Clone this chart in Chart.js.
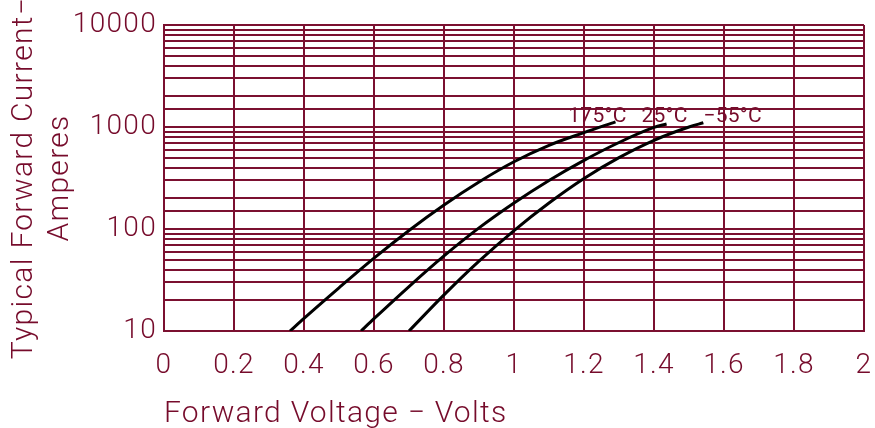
<!DOCTYPE html>
<html>
<head>
<meta charset="utf-8">
<script src="https://cdn.jsdelivr.net/npm/chart.js@4"></script>
<style>
  html, body { margin: 0; padding: 0; background: #fff; }
  canvas { display: block; }
</style>
</head>
<body>
<canvas id="diodeChart" width="875" height="428"></canvas>
<script>
    // Forward voltage (V) and forward current (A)
    const v175 = [0.36, 0.4, 0.5, 0.6, 0.7, 0.8, 0.9, 1.0, 1.1, 1.2, 1.29];
    const i175 = [10, 13.3, 26.5, 51.8, 96.8, 172, 289, 456, 661, 881, 1122];

    const v25 = [0.563, 0.6, 0.7, 0.8, 0.9, 1.0, 1.1, 1.2, 1.3, 1.4, 1.436];
    const i25 = [10, 13.2, 27.3, 54.5, 102.5, 180, 299, 471, 705, 990, 1070];

    const vMinus55 = [0.70, 0.8, 0.9, 1.0, 1.1, 1.2, 1.3, 1.4, 1.5, 1.541];
    const iMinus55 = [10, 22.6, 48.4, 96.6, 180, 313, 501, 741, 1000, 1100];

    const xTicks = [0, 0.2, 0.4, 0.6, 0.8, 1, 1.2, 1.4, 1.6, 1.8, 2];
    const yTickLabels = [10, 100, 1000, 10000];

    // curve labels: text, voltage, current (where the text sits)
    const curveLabels = ["175°C", "25°C", "−55°C"];
    const labelVolts = [1.155, 1.364, 1.541];
    const labelAmps = [1120, 1120, 1120];

    const maroon = "#7b1030";
    const textColor = "#760b2b";
    const fontFamily = "Roboto, 'Liberation Sans', sans-serif";

    function toPoints(xs, ys) {
      return xs.map((x, i) => ({ x: x, y: ys[i] }));
    }

    // the reference lettering is a spaced-out plotter font
    const spacingPlugin = {
      id: "letterSpacing",
      beforeInit(chart) { chart.ctx.letterSpacing = "1.3px"; },
      beforeDraw(chart) { chart.ctx.letterSpacing = "1.3px"; }
    };

    const curveLabelPlugin = {
      id: "curveLabels",
      afterDatasetsDraw(chart) {
        const ctx = chart.ctx;
        const xs = chart.scales.x;
        const ys = chart.scales.y;
        ctx.save();
        ctx.font = "21px " + fontFamily;
        ctx.letterSpacing = "0.3px";
        ctx.fillStyle = textColor;
        ctx.textAlign = "left";
        ctx.textBaseline = "alphabetic";
        curveLabels.forEach((t, i) => {
          ctx.fillText(t, xs.getPixelForValue(labelVolts[i]), ys.getPixelForValue(labelAmps[i]));
        });
        ctx.restore();
      }
    };

    const lineStyle = {
      borderColor: "#000",
      borderWidth: 3,
      pointRadius: 0,
      fill: false,
      cubicInterpolationMode: "monotone"
    };

    new Chart(document.getElementById("diodeChart"), {
      type: "line",
      data: {
        datasets: [
          Object.assign({ label: "175°C", data: toPoints(v175, i175) }, lineStyle),
          Object.assign({ label: "25°C", data: toPoints(v25, i25) }, lineStyle),
          Object.assign({ label: "−55°C", data: toPoints(vMinus55, iMinus55) }, lineStyle)
        ]
      },
      options: {
        responsive: false,
        animation: false,
        devicePixelRatio: 1,
        layout: { padding: { top: 25, right: 11, left: 0, bottom: 0 } },
        plugins: {
          legend: { display: false },
          tooltip: { enabled: false }
        },
        scales: {
          x: {
            type: "linear",
            min: 0,
            max: 2,
            afterBuildTicks: (scale) => {
              scale.ticks = xTicks.map(v => ({ value: v }));
            },
            afterFit: (scale) => {
              scale.height = 97;
              scale.paddingRight = 0;
            },
            grid: { color: maroon, lineWidth: 2, drawTicks: false },
            border: { display: true, color: maroon, width: 2 },
            ticks: {
              color: textColor,
              padding: 18,
              maxRotation: 0,
              autoSkip: false,
              font: { family: fontFamily, size: 28, weight: 300 },
              callback: function (value) {
                return String(value);
              }
            },
            title: {
              display: true,
              text: "Forward Voltage − Volts",
              align: "start",
              color: textColor,
              padding: { top: 0, bottom: 0 },
              font: { family: fontFamily, size: 30, weight: 300, lineHeight: 0.87 }
            }
          },
          y: {
            type: "logarithmic",
            min: 10,
            max: 10000,
            afterFit: (scale) => { scale.width = 164; },
            grid: { color: maroon, lineWidth: 2, drawTicks: false },
            border: { display: true, color: maroon, width: 2 },
            ticks: {
              color: textColor,
              padding: 7,
              autoSkip: false,
              font: { family: fontFamily, size: 28, weight: 300 },
              callback: function (value) {
                return yTickLabels.includes(value) ? String(value) : "";
              }
            },
            title: {
              display: true,
              text: ["Typical Forward Current−", "Amperes"],
              color: textColor,
              padding: { top: 6, bottom: 0 },
              font: { family: fontFamily, size: 30, weight: 300, lineHeight: 1.2 }
            }
          }
        }
      },
      plugins: [spacingPlugin, curveLabelPlugin]
    });
</script>
</body>
</html>
